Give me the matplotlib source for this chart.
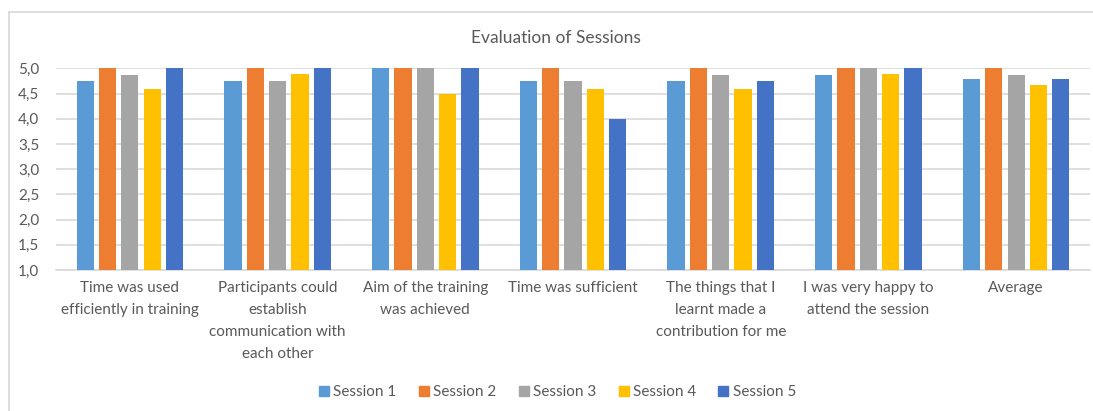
import matplotlib.pyplot as plt
import numpy as np
from matplotlib.lines import Line2D
from matplotlib.ticker import FuncFormatter

categories = [
    "Time was used\nefficiently in training",
    "Participants could\nestablish\ncommunication with\neach other",
    "Aim of the training\nwas achieved",
    "Time was sufficient",
    "The things that I\nlearnt made a\ncontribution for me",
    "I was very happy to\nattend the session",
    "Average",
]
series_names = ["Session 1", "Session 2", "Session 3", "Session 4", "Session 5"]
session_1 = [4.75, 4.75, 5.0, 4.75, 4.75, 4.88, 4.80]
session_2 = [5.0, 5.0, 5.0, 5.0, 5.0, 5.0, 5.0]
session_3 = [4.88, 4.75, 5.0, 4.75, 4.88, 5.0, 4.88]
session_4 = [4.6, 4.9, 4.5, 4.6, 4.6, 4.9, 4.68]
session_5 = [5.0, 5.0, 5.0, 4.0, 4.75, 5.0, 4.80]
colors = ["#5b9bd5", "#ed7d31", "#a5a5a5", "#ffc000", "#4472c4"]

plt.rcParams["font.family"] = ["Lato", "DejaVu Sans"]
text_color = "#595959"
grid_color = "#d9d9d9"

fig = plt.figure(figsize=(10.93, 4.11), dpi=100)
ax = fig.add_axes([56 / 1093, 1 - 270 / 411, (1090 - 56) / 1093, (270 - 68.5) / 411])

x = np.arange(len(categories))
step = 0.151
width = 0.117
all_series = [session_1, session_2, session_3, session_4, session_5]
for i, (vals, name, c) in enumerate(zip(all_series, series_names, colors)):
    ax.bar(x + (i - 2) * step, np.array(vals) - 1.0, bottom=1.0, width=width,
           color=c, label=name, zorder=3)

ax.set_xlim(-0.5, len(categories) - 0.5)
ax.set_ylim(1.0, 5.0)
ax.set_yticks(np.arange(1.0, 5.01, 0.5))
ax.yaxis.set_major_formatter(FuncFormatter(lambda v, p: f"{v:.1f}".replace(".", ",")))
ax.set_xticks(x)
ax.set_xticklabels(categories, fontsize=11, color=text_color, va="top",
                   linespacing=1.72)
ax.tick_params(axis="both", length=0, labelsize=11, colors=text_color)
ax.tick_params(axis="x", pad=8)
ax.tick_params(axis="y", pad=12)
ax.grid(axis="y", color=grid_color, linewidth=1.2, zorder=0)
for side in ["top", "right", "left"]:
    ax.spines[side].set_visible(False)
ax.spines["bottom"].set_color(grid_color)
ax.spines["bottom"].set_linewidth(1.2)

fig.text(556 / 1093, 1 - 38 / 411, "Evaluation of Sessions", ha="center",
         va="center", fontsize=12.5, color=text_color)

handles = [Line2D([], [], marker="s", linestyle="none", markersize=7,
                  markerfacecolor=c, markeredgecolor=c) for c in colors]
fig.legend(handles, series_names, loc="center", bbox_to_anchor=(556 / 1093, 1 - 392 / 411),
           ncol=5, frameon=False, fontsize=11, labelcolor=text_color,
           handletextpad=0.1, columnspacing=1.3, handlelength=1.0)

# chart border (left and top edges visible in crop)
fig.add_artist(Line2D([9 / 1093, 9 / 1093], [0, 1 - 12 / 411], color=grid_color,
                      linewidth=1.2, transform=fig.transFigure))
fig.add_artist(Line2D([9 / 1093, 1], [1 - 12 / 411, 1 - 12 / 411], color=grid_color,
                      linewidth=1.2, transform=fig.transFigure))

fig.savefig("out.png", dpi=100)
